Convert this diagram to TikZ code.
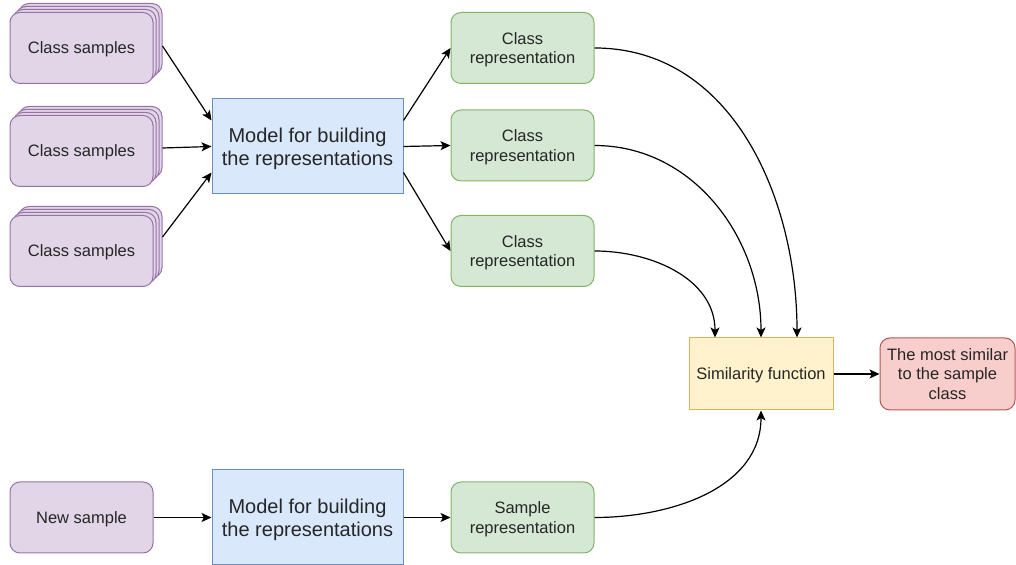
\documentclass[tikz,border=0pt]{standalone}
\usepackage{fontspec}
\setmainfont{Liberation Sans}
\usetikzlibrary{arrows.meta,shadows}

\definecolor{purplefill}{HTML}{E1D5E7}
\definecolor{purpledraw}{HTML}{9673A6}
\definecolor{bluefill}{HTML}{DAE8FC}
\definecolor{bluedraw}{HTML}{6C8EBF}
\definecolor{greenfill}{HTML}{D5E8D4}
\definecolor{greendraw}{HTML}{82B366}
\definecolor{yellowfill}{HTML}{FFF2CC}
\definecolor{yellowdraw}{HTML}{D6B656}
\definecolor{redfill}{HTML}{F8CECC}
\definecolor{reddraw}{HTML}{B85450}

\begin{document}
\begin{tikzpicture}[x=0.5pt,y=-0.5pt]

% Define block styles
\tikzstyle{smalltext} = [font=\fontsize{8.25}{9.75}\selectfont, align=center, text=black!85]
\tikzstyle{basebox} = [rectangle, line width=0.5pt, minimum width=71.5pt, minimum height=35.5pt, inner sep=1pt, text depth=0pt]
\tikzstyle{samplebox} = [basebox, smalltext, rounded corners=5pt, draw=purpledraw, fill=purplefill]
\tikzstyle{stackbox} = [samplebox, copy shadow={shadow xshift=4.5pt, shadow yshift=4.5pt}, copy shadow={shadow xshift=3pt, shadow yshift=3pt}, copy shadow={shadow xshift=1.5pt, shadow yshift=1.5pt}]
\tikzstyle{modelbox} = [basebox, minimum width=95.5pt, minimum height=47.5pt, draw=bluedraw, fill=bluefill, align=center, font=\fontsize{10}{11.5}\selectfont, text=black!85]
\tikzstyle{reprbox} = [basebox, smalltext, rounded corners=5pt, draw=greendraw, fill=greenfill]
\tikzstyle{simbox} = [basebox, smalltext, minimum width=72pt, minimum height=36pt, draw=yellowdraw, fill=yellowfill]
\tikzstyle{resultbox} = [basebox, smalltext, rounded corners=5pt, minimum width=67.5pt, minimum height=36pt, draw=reddraw, fill=redfill]
\tikzstyle{arrow} = [line width=0.6pt, -{Stealth[length=5pt,width=4.5pt,inset=1.2pt]}]

\useasboundingbox (0,0) rectangle (1016,565);

% Define nodes
\node (cs1) [stackbox] at (81.5,48) {Class samples};
\node (cs2) [stackbox] at (81.5,151) {Class samples};
\node (cs3) [stackbox] at (81.5,251) {Class samples};

\node (model1) [modelbox] at (307.5,146.5) {Model for building\\the representations};

\node (rep1) [reprbox] at (522.5,48) {Class\\representation};
\node (rep2) [reprbox] at (522.5,145.5) {Class\\representation};
\node (rep3) [reprbox] at (522.5,251) {Class\\representation};

\node (sim) [simbox] at (761,374) {Similarity function};
\node (best) [resultbox] at (947.5,374) {The most similar\\to the sample\\class};

\node (new) [samplebox] at (81.5,517.5) {New sample};
\node (model2) [modelbox] at (307.5,517.5) {Model for building\\the representations};
\node (samp) [reprbox] at (522.5,517.5) {Sample\\representation};

% Draw arrows
\draw [arrow] ([xshift=4.5pt,yshift=1pt]cs1.east) -- ([yshift=13pt]model1.west);
\draw [arrow] ([xshift=4.5pt,yshift=1.5pt]cs2.east) -- (model1.west);
\draw [arrow] ([xshift=4.5pt,yshift=7pt]cs3.east) -- ([yshift=-13pt]model1.west);

\draw [arrow] ([yshift=13pt]model1.east) -- (rep1.west);
\draw [arrow] (model1.east) -- (rep2.west);
\draw [arrow] ([yshift=-13pt]model1.east) -- (rep3.west);

\draw [arrow] (rep1.east) to[out=0,in=90] ([xshift=18pt]sim.north);
\draw [arrow] (rep2.east) to[out=0,in=90] (sim.north);
\draw [arrow] (rep3.east) to[out=0,in=90] ([xshift=-23pt]sim.north);
\draw [arrow] (samp.east) to[out=0,in=-90] (sim.south);

\draw [arrow] (sim) -- (best);
\draw [arrow] (new) -- (model2);
\draw [arrow] (model2) -- (samp);

\end{tikzpicture}
\end{document}
